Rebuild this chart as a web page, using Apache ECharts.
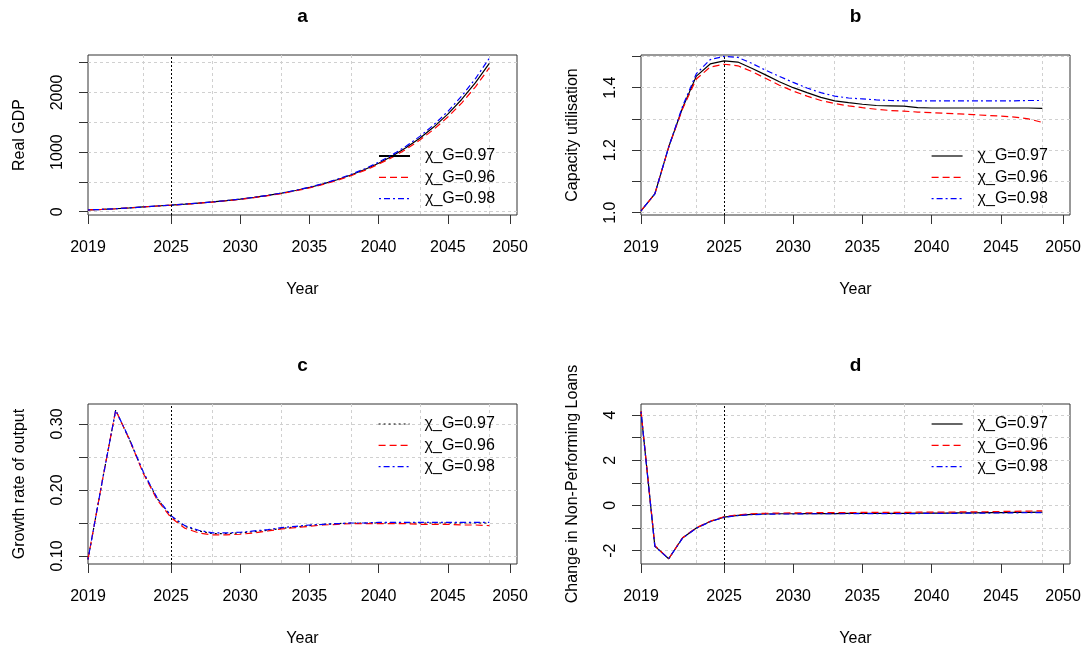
<!DOCTYPE html>
<html><head><meta charset="utf-8">
<script src="https://cdn.jsdelivr.net/npm/echarts@6/dist/echarts.min.js"></script>
<style>html,body{margin:0;padding:0;background:#fff}#c{width:1090px;height:652px}</style>
</head><body><div id="c"></div>
<script>
// ---------- data ----------
const years = [2019,2020,2021,2022,2023,2024,2025,2026,2027,2028,2029,2030,2031,2032,2033,2034,2035,2036,2037,2038,2039,2040,2041,2042,2043,2044,2045,2046,2047,2048];
const xTickValues = [2019, 2025, 2030, 2035, 2040, 2045, 2049.5];
const xTickLabels = ['2019','2025','2030','2035','2040','2045','2050'];
const xGridValues = [2023, 2028, 2033, 2038, 2043, 2048];
const markYear = 2025;
const seriesNames = ['χ_G=0.97', 'χ_G=0.96', 'χ_G=0.98'];

const gdpBlack = [31,38,50,64,80,96,111,127,145,164,186,211,240,273,311,356,407,467,536,616,708,814,936,1077,1238,1424,1637,1883,2165,2490];
const gdpRed   = [31,38,50,64,80,96,110,126,143,162,184,208,237,269,306,350,400,459,526,604,693,796,914,1050,1206,1384,1589,1823,2095,2415];
const gdpBlue  = [31,38,50,64,80,96,111,127,145,164,187,212,242,275,314,360,412,473,544,626,721,830,956,1101,1268,1461,1683,1939,2233,2575];

const cuBlack = [1.006,1.06,1.21,1.335,1.437,1.476,1.486,1.482,1.462,1.441,1.419,1.400,1.384,1.369,1.358,1.352,1.347,1.343,1.342,1.341,1.336,1.335,1.335,1.335,1.335,1.335,1.335,1.335,1.335,1.334];
const cuRed   = [1.006,1.06,1.21,1.332,1.428,1.466,1.475,1.470,1.452,1.430,1.408,1.389,1.373,1.359,1.349,1.342,1.336,1.331,1.327,1.325,1.322,1.320,1.318,1.316,1.314,1.311,1.309,1.306,1.300,1.289];
const cuBlue  = [1.006,1.06,1.21,1.340,1.445,1.490,1.500,1.497,1.478,1.456,1.436,1.417,1.399,1.384,1.373,1.367,1.364,1.361,1.359,1.358,1.358,1.358,1.358,1.358,1.358,1.358,1.358,1.358,1.359,1.359];

const growthBlack = [0.095,0.210,0.321,0.276,0.226,0.187,0.160,0.145,0.138,0.134,0.134,0.135,0.137,0.139,0.142,0.144,0.146,0.148,0.149,0.150,0.150,0.150,0.150,0.150,0.150,0.150,0.150,0.150,0.150,0.150];
const growthRed   = [0.095,0.210,0.321,0.276,0.225,0.185,0.158,0.142,0.135,0.132,0.132,0.133,0.135,0.138,0.141,0.143,0.145,0.147,0.148,0.149,0.149,0.149,0.149,0.149,0.148,0.148,0.148,0.147,0.147,0.146];
const growthBlue  = [0.095,0.210,0.321,0.277,0.227,0.188,0.161,0.146,0.139,0.135,0.135,0.136,0.138,0.140,0.143,0.145,0.147,0.148,0.149,0.150,0.150,0.151,0.151,0.151,0.151,0.151,0.151,0.151,0.151,0.151];

const nplBlack = [4.15,-1.80,-2.36,-1.44,-1.00,-0.71,-0.52,-0.44,-0.40,-0.38,-0.37,-0.37,-0.36,-0.36,-0.36,-0.35,-0.35,-0.35,-0.35,-0.35,-0.34,-0.34,-0.34,-0.33,-0.33,-0.32,-0.32,-0.31,-0.31,-0.30];
const nplRed   = [4.17,-1.78,-2.36,-1.43,-0.99,-0.70,-0.50,-0.42,-0.37,-0.35,-0.34,-0.33,-0.33,-0.32,-0.32,-0.32,-0.31,-0.31,-0.31,-0.31,-0.30,-0.30,-0.30,-0.29,-0.29,-0.28,-0.27,-0.26,-0.25,-0.24];
const nplBlue  = [4.14,-1.81,-2.36,-1.45,-1.01,-0.72,-0.53,-0.45,-0.41,-0.39,-0.38,-0.38,-0.37,-0.37,-0.37,-0.37,-0.36,-0.36,-0.36,-0.36,-0.36,-0.35,-0.35,-0.35,-0.34,-0.34,-0.33,-0.33,-0.32,-0.32];

const gdpTicks = [0,500,1000,1500,2000,2500];
const gdpLabels = [0,1000,2000];
const cuTicks = [1.0,1.1,1.2,1.3,1.4,1.5];
const cuLabels = [1.0,1.2,1.4];
const growthTicks = [0.10,0.15,0.20,0.25,0.30];
const growthLabels = [0.10,0.20,0.30];
const nplTicks = [-2,-1,0,1,2,3,4];
const nplLabels = [-2,0,2,4];

const titles = ['a','b','c','d'];
const yNames = ['Real GDP','Capacity utilisation','Growth rate of output','Change in Non-Performing Loans'];

// ---------- layout / styles ----------
const FONT = 'Liberation Sans, Arial, sans-serif';
const W = 429, H = 160;
const panels = [
  {left:88,  top:55,  ymin:-55,    ymax:2629,   ticks:gdpTicks,    labels:gdpLabels,    dec:0, data:[gdpBlack,gdpRed,gdpBlue],          blackType:'solid', legendTop:147},
  {left:641, top:55,  ymin:0.9926, ymax:1.5046, ticks:cuTicks,     labels:cuLabels,     dec:1, data:[cuBlack,cuRed,cuBlue],             blackType:'solid', legendTop:147},
  {left:88,  top:404, ymin:0.0879, ymax:0.3303, ticks:growthTicks, labels:growthLabels, dec:2, data:[growthBlack,growthRed,growthBlue], blackType:[2,3],   legendTop:415},
  {left:641, top:404, ymin:-2.592, ymax:4.486,  ticks:nplTicks,    labels:nplLabels,    dec:0, data:[nplBlack,nplRed,nplBlue],          blackType:'solid', legendTop:415}
];
const colors = ['#000000','#ff0000','#0000ff'];
const gridLine = {color:'#d0d0d0', type:[3,3], width:1};

const grid = [], xAxis = [], yAxis = [], series = [], title = [], legend = [];

panels.forEach((p, i) => {
  grid.push({left:p.left, top:p.top, width:W, height:H, show:true, borderColor:'#333', borderWidth:1, backgroundColor:'transparent'});
  title.push({text:titles[i], left:p.left + W/2, top:p.top - 48, textAlign:'center', padding:0,
    textStyle:{fontFamily:FONT, fontSize:19, fontWeight:'bold', color:'#000'}});
  // main x axis: ticks + labels
  xAxis.push({type:'value', gridIndex:i, min:2019, max:2050, position:'bottom',
    axisLine:{show:false, onZero:false},
    axisTick:{show:true, length:9, customValues:xTickValues, lineStyle:{color:'#333', width:1}},
    axisLabel:{customValues:xTickValues, margin:25, fontFamily:FONT, fontSize:16, color:'#000',
      formatter:v => { const k = xTickValues.findIndex(t => Math.abs(t - v) < 1e-6); return k >= 0 ? xTickLabels[k] : ''; }},
    splitLine:{show:false},
    name:'Year', nameLocation:'middle', nameGap:67, nameTextStyle:{fontFamily:FONT, fontSize:16, color:'#000'}
  });
  // helper x axis: grid lines only
  xAxis.push({type:'value', gridIndex:i, min:2019, max:2050, position:'top',
    axisLine:{show:false, onZero:false}, axisTick:{show:false, customValues:xGridValues}, axisLabel:{show:false},
    splitLine:{show:true, lineStyle:gridLine}
  });
  yAxis.push({type:'value', gridIndex:i, min:p.ymin, max:p.ymax,
    axisLine:{show:false, onZero:false},
    axisTick:{show:true, length:9, customValues:p.ticks, lineStyle:{color:'#333', width:1}},
    axisLabel:{customValues:p.labels, rotate:90, margin:22, fontFamily:FONT, fontSize:16, color:'#000',
      formatter:v => Number(v).toFixed(p.dec)},
    splitLine:{show:true, lineStyle:gridLine},
    name:yNames[i], nameLocation:'middle', nameGap:60, nameTextStyle:{fontFamily:FONT, fontSize:16, color:'#000'}
  });
  const types = [p.blackType, [7,4], [2,3,6,3]];
  const legendData = [];
  p.data.forEach((vals, k) => {
    const nm = titles[i] + '|' + seriesNames[k];
    const s = {type:'line', name:nm, xAxisIndex:2*i, yAxisIndex:i, symbol:'none', silent:true,
      data: years.map((y, j) => [y, vals[j]]),
      lineStyle:{color:colors[k], width:1.2, type:types[k]}, itemStyle:{color:colors[k]}, z:2+k};
    if (k === 0) {
      s.markLine = {silent:true, symbol:['none','none'], label:{show:false},
        lineStyle:{color:'#000', type:[2,2], width:1}, data:[{xAxis:markYear}]};
    }
    series.push(s);
    const item = {name:nm, lineStyle:{width:(i === 0 && k === 0) ? 2 : 1.2}};
    legendData.push(item);
  });
  legend.push({orient:'vertical', left:p.left + 290, top:p.legendTop + 1, padding:0, itemWidth:31, itemHeight:14, itemGap:5.3,
    selectedMode:false, data:legendData, formatter:n => n.split('|')[1],
    itemStyle:{opacity:0}, lineStyle:{width:1.2},
    textStyle:{fontFamily:FONT, fontSize:16, color:'#000', lineHeight:16, padding:[0,0,0,10]}});
});

const chart = echarts.init(document.getElementById('c'), null, {renderer:'canvas'});
chart.setOption({animation:false, backgroundColor:'#fff', textStyle:{fontFamily:FONT},
  grid, xAxis, yAxis, series, title, legend});
</script></body></html>
